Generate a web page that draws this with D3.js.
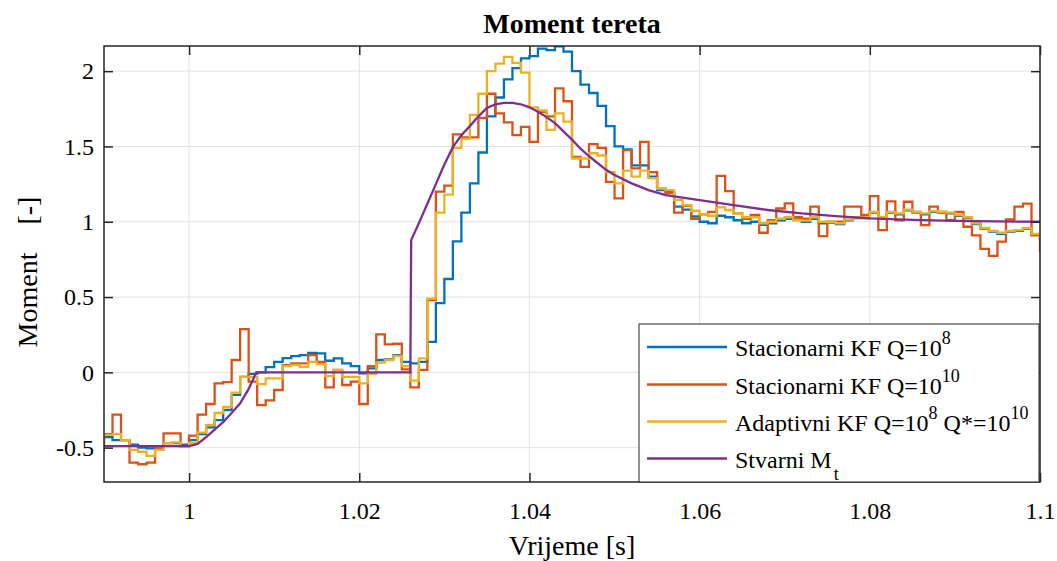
<!DOCTYPE html>
<html>
<head>
<meta charset="utf-8">
<script src="https://cdn.jsdelivr.net/npm/d3@7"></script>
<style>
  body { margin: 0; background: #fff; }
  text { font-family: "Liberation Serif", "Times New Roman", serif; fill: #000; }
</style>
</head>
<body>
<svg id="chart" width="1057" height="561"></svg>
<script>
// Sampling grid of the Kalman filter estimates (1 ms steps)
const startTime = 0.989;
const samplePeriod = 0.001;

// Stacionarni KF, Q = 1e8
const kfQ8 = [
  -0.44, -0.43, -0.45, -0.45, -0.48, -0.50, -0.505, -0.49, -0.47, -0.47,
  -0.48, -0.45, -0.41, -0.365, -0.317, -0.25, -0.15, -0.03, -0.01, 0.0,
  0.035, 0.07, 0.095, 0.108, 0.115, 0.13, 0.126, 0.077, 0.093, 0.06,
  0.042, -0.007, 0.026, 0.082, 0.086, 0.115, 0.07, 0.06, 0.07, 0.203,
  0.46, 0.62, 0.87, 1.06, 1.255, 1.46, 1.70, 1.825, 1.945, 2.02,
  2.085, 2.10, 2.15, 2.14, 2.165, 2.13, 2.0, 1.91, 1.855, 1.77,
  1.635, 1.50, 1.48, 1.375, 1.375, 1.30, 1.21, 1.20, 1.10, 1.08,
  1.035, 1.0, 0.99, 1.04, 1.03, 1.01, 0.99, 1.0, 0.98, 0.99,
  1.01, 1.02, 1.015, 1.0, 1.02, 0.99, 0.995, 0.985, 1.01, 1.025,
  1.025, 1.06, 1.025, 1.06, 1.05, 1.075, 1.06, 1.05, 1.065, 1.06,
  1.055, 1.04, 1.025, 0.985, 0.955, 0.935, 0.92, 0.935, 0.94, 0.955,
  0.915, 0.885
];

// Stacionarni KF, Q = 1e10
const kfQ10 = [
  -0.52, -0.41, -0.28, -0.45, -0.60, -0.61, -0.60, -0.505, -0.405, -0.405,
  -0.49, -0.42, -0.28, -0.21, -0.073, -0.065, 0.082, 0.287, -0.062, -0.217,
  -0.186, -0.117, 0.048, 0.06, 0.06, 0.115, 0.07, -0.10, 0.016, -0.084,
  -0.062, -0.21, 0.042, 0.252, 0.186, 0.19, 0.02, -0.10, 0.016, 0.48,
  1.20, 1.24, 1.58, 1.56, 1.56, 1.69, 1.85, 1.72, 1.66, 1.575,
  1.63, 1.53, 1.73, 1.70, 1.885, 1.80, 1.43, 1.365, 1.515, 1.49,
  1.265, 1.155, 1.475, 1.355, 1.53, 1.33, 1.22, 1.19, 1.06, 1.105,
  1.02, 1.05, 1.066, 1.305, 1.204, 1.055, 1.02, 1.045, 0.927, 1.01,
  1.088, 1.122, 1.03, 1.02, 1.10, 0.905, 1.0, 1.0, 1.10, 1.10,
  1.045, 1.17, 0.945, 1.135, 1.01, 1.133, 1.066, 0.978, 1.10, 1.066,
  1.01, 1.066, 0.967, 0.91, 0.82, 0.773, 0.868, 1.015, 1.10, 1.12,
  0.91, 0.80
];

// Adaptivni KF, Q = 1e8, Q* = 1e10
const adaptiveKF = [
  -0.45, -0.415, -0.41, -0.45, -0.515, -0.527, -0.555, -0.515, -0.47, -0.465,
  -0.495, -0.47, -0.40, -0.35, -0.27, -0.23, -0.135, -0.03, -0.03, -0.078,
  -0.04, -0.04, 0.042, 0.05, 0.037, 0.07, 0.055, -0.025, 0.015, -0.03,
  -0.03, -0.073, -0.01, 0.064, 0.082, 0.11, 0.042, -0.055, 0.093, 0.49,
  1.06, 1.18, 1.49, 1.55, 1.71, 1.85, 2.0, 2.05, 2.095, 2.055,
  1.99, 1.76, 1.74, 1.61, 1.72, 1.665, 1.42, 1.42, 1.455, 1.44,
  1.33, 1.255, 1.34, 1.30, 1.34, 1.29, 1.22, 1.21, 1.145, 1.11,
  1.073, 1.05, 1.04, 1.095, 1.078, 1.056, 1.03, 1.03, 0.99, 1.0,
  1.02, 1.03, 1.01, 1.008, 1.03, 1.0, 1.0, 0.99, 1.015, 1.03,
  1.03, 1.066, 1.03, 1.066, 1.055, 1.08, 1.066, 1.055, 1.07, 1.066,
  1.06, 1.045, 1.03, 0.99, 0.96, 0.94, 0.927, 0.94, 0.945, 0.96,
  0.92, 0.89
];

// Stvarni moment tereta M_t
const trueTime = [
  0.99, 0.995, 1.0, 1.001, 1.002, 1.003, 1.004, 1.005, 1.006, 1.007,
  1.0079, 1.015, 1.026, 1.0261, 1.027, 1.028, 1.029, 1.030, 1.031, 1.032,
  1.033, 1.034, 1.035, 1.036, 1.037, 1.038, 1.039, 1.040, 1.041, 1.042,
  1.043, 1.044, 1.045, 1.046, 1.047, 1.048, 1.049, 1.050, 1.052, 1.054,
  1.056, 1.058, 1.060, 1.064, 1.068, 1.072, 1.076, 1.080, 1.085, 1.090,
  1.095, 1.1
];
const trueMoment = [
  -0.49, -0.49, -0.49, -0.475, -0.43, -0.38, -0.33, -0.27, -0.205, -0.11,
  0.0, 0.0, 0.0, 0.878, 0.99, 1.12, 1.25, 1.38, 1.495, 1.575,
  1.635, 1.70, 1.755, 1.78, 1.79, 1.79, 1.78, 1.76, 1.73, 1.695,
  1.655, 1.60, 1.545, 1.485, 1.435, 1.39, 1.345, 1.31, 1.255, 1.21,
  1.177, 1.16, 1.144, 1.11, 1.078, 1.055, 1.038, 1.022, 1.012, 1.006,
  1.002, 1.0
];

const xTicks = [1, 1.02, 1.04, 1.06, 1.08, 1.1];
const xTickLabels = ["1", "1.02", "1.04", "1.06", "1.08", "1.1"];
const yTicks = [-0.5, 0, 0.5, 1, 1.5, 2];
const yTickLabels = ["-0.5", "0", "0.5", "1", "1.5", "2"];

const seriesColors = ["#0072BD", "#D95319", "#EDB120", "#7E2F8E"];

// ---- layout ----
const svg = d3.select("#chart");
const plot = { left: 104, right: 1040, top: 46, bottom: 482 };

const x = d3.scaleLinear().domain([0.99, 1.1]).range([plot.left, plot.right]);
const y = d3.scaleLinear().domain([-0.728, 2.167]).range([plot.bottom, plot.top]);

svg.append("defs").append("clipPath").attr("id", "plotClip")
  .append("rect")
  .attr("x", plot.left).attr("y", plot.top)
  .attr("width", plot.right - plot.left).attr("height", plot.bottom - plot.top);

// grid
const grid = svg.append("g").attr("stroke", "#e3e3e3").attr("stroke-width", 1);
grid.selectAll(".gx").data(xTicks).join("line")
  .attr("x1", d => x(d)).attr("x2", d => x(d))
  .attr("y1", plot.top).attr("y2", plot.bottom);
grid.selectAll(".gy").data(yTicks).join("line")
  .attr("x1", plot.left).attr("x2", plot.right)
  .attr("y1", d => y(d)).attr("y2", d => y(d));

// data lines
const stepLine = d3.line()
  .x((d, i) => x(startTime + i * samplePeriod))
  .y(d => y(d))
  .curve(d3.curveStepAfter);

const lines = svg.append("g").attr("clip-path", "url(#plotClip)")
  .attr("fill", "none").attr("stroke-width", 2.3).attr("stroke-linejoin", "miter");

[kfQ8, kfQ10, adaptiveKF].forEach((vals, i) => {
  lines.append("path").attr("d", stepLine(vals)).attr("stroke", seriesColors[i]);
});

const trueLine = d3.line()
  .x((d, i) => x(trueTime[i]))
  .y(d => y(d));
lines.append("path").attr("d", trueLine(trueMoment)).attr("stroke", seriesColors[3]);

// axes with inward ticks on all four sides
const tickLen = 9;
const axisColor = "#262626";
const axes = svg.append("g");

const bottomAxis = d3.axisBottom(x).tickValues(xTicks).tickSize(-tickLen).tickFormat((d, i) => xTickLabels[i]);
const topAxis = d3.axisTop(x).tickValues(xTicks).tickSize(-tickLen).tickFormat("");
const leftAxis = d3.axisLeft(y).tickValues(yTicks).tickSize(-tickLen).tickFormat((d, i) => yTickLabels[i]);
const rightAxis = d3.axisRight(y).tickValues(yTicks).tickSize(-tickLen).tickFormat("");

function styleAxis(g) {
  g.select(".domain").remove();
  g.selectAll(".tick line").attr("stroke", axisColor).attr("stroke-width", 1.5);
  g.selectAll(".tick text")
    .attr("fill", "#000")
    .style("font-family", '"Liberation Serif", "Times New Roman", serif')
    .style("font-size", "24px");
}

axes.append("g").attr("transform", `translate(0,${plot.bottom})`).call(bottomAxis).call(styleAxis)
  .selectAll(".tick text").attr("y", 20).attr("dy", "0.71em");
axes.append("g").attr("transform", `translate(0,${plot.top})`).call(topAxis).call(styleAxis);
axes.append("g").attr("transform", `translate(${plot.left},0)`).call(leftAxis).call(styleAxis)
  .selectAll(".tick text").attr("x", -10).attr("dy", "0.32em");
axes.append("g").attr("transform", `translate(${plot.right},0)`).call(rightAxis).call(styleAxis);

// box
svg.append("rect")
  .attr("x", plot.left).attr("y", plot.top)
  .attr("width", plot.right - plot.left).attr("height", plot.bottom - plot.top)
  .attr("fill", "none").attr("stroke", axisColor).attr("stroke-width", 1.5);

// title and axis labels
svg.append("text")
  .attr("x", (plot.left + plot.right) / 2).attr("y", 33)
  .attr("text-anchor", "middle")
  .style("font-size", "28px").style("font-weight", "bold")
  .text("Moment tereta");

svg.append("text")
  .attr("x", (plot.left + plot.right) / 2).attr("y", 555)
  .attr("text-anchor", "middle")
  .style("font-size", "28px")
  .text("Vrijeme [s]");

svg.append("text")
  .attr("transform", `translate(37,272) rotate(-90)`)
  .attr("text-anchor", "middle")
  .style("font-size", "28px")
  .style("white-space", "pre")
  .text("Moment    [-]");

// legend
const legend = svg.append("g");
const lg = { x: 639, y: 324, w: 400, h: 158 };
legend.append("rect")
  .attr("x", lg.x).attr("y", lg.y).attr("width", lg.w).attr("height", lg.h)
  .attr("fill", "#fff").attr("stroke", axisColor).attr("stroke-width", 1);

const legendRows = [
  [{ t: "Stacionarni KF Q=10" }, { t: "8", sup: true }],
  [{ t: "Stacionarni KF Q=10" }, { t: "10", sup: true }],
  [{ t: "Adaptivni KF Q=10" }, { t: "8", sup: true }, { t: " Q*=10" }, { t: "10", sup: true }],
  [{ t: "Stvarni M" }, { t: "t", sub: true }]
];
const rowY = [347, 384.5, 421.5, 458.5];

legendRows.forEach((parts, i) => {
  legend.append("line")
    .attr("x1", 647).attr("x2", 727)
    .attr("y1", rowY[i]).attr("y2", rowY[i])
    .attr("stroke", seriesColors[i]).attr("stroke-width", 2.3);
  const txt = legend.append("text")
    .attr("x", 735).attr("y", rowY[i] + 9)
    .style("font-size", "24px")
    .style("white-space", "pre");
  let shift = 0;
  parts.forEach(p => {
    const ts = txt.append("tspan").text(p.t);
    if (p.sup) {
      ts.attr("dy", -12 - shift).style("font-size", "18px");
      shift = -12;
    } else if (p.sub) {
      ts.attr("dx", 2).attr("dy", 12 - shift).style("font-size", "18px");
      shift = 12;
    } else if (shift !== 0) {
      ts.attr("dy", -shift);
      shift = 0;
    }
  });
});
</script>
</body>
</html>
